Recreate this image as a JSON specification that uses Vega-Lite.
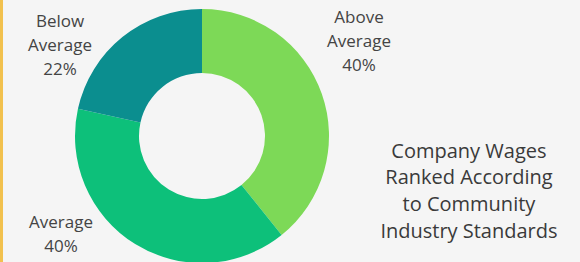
{
  "$schema": "https://vega.github.io/schema/vega-lite/v6.json",
  "width": 580,
  "height": 262,
  "padding": 0,
  "autosize": {"type": "none"},
  "background": "#f5f5f5",
  "config": {"view": {"stroke": null}, "font": "Open Sans"},
  "datasets": {
    "slices": [
      {"category": "Above Average", "value": 40, "lx": 1.236, "ly": 0.886},
      {"category": "Average", "value": 40, "lx": -1.11, "ly": -0.727},
      {"category": "Below Average", "value": 22, "lx": -1.118, "ly": 0.861}
    ],
    "note": [
      {"text": "Company Wages\nRanked According\nto Community\nIndustry Standards", "lx": 2.102, "ly": -0.171}
    ]
  },
  "layer": [
    {
      "data": {"name": "note"},
      "mark": {"type": "rule", "color": "#f2c14e", "strokeWidth": 3},
      "encoding": {
        "x": {"datum": -1.5787, "type": "quantitative", "scale": {"domain": [-1.590551, 2.976378], "nice": false, "zero": false}, "axis": null}
      }
    },
    {
      "data": {"name": "slices"},
      "mark": {"type": "arc", "radius": 127, "innerRadius": 63},
      "encoding": {
        "x": {"datum": 0, "type": "quantitative", "scale": {"domain": [-1.590551, 2.976378], "nice": false, "zero": false}, "axis": null},
        "y": {"datum": 0, "type": "quantitative", "scale": {"domain": [-0.992126, 1.070866], "nice": false, "zero": false}, "axis": null},
        "theta": {"field": "value", "type": "quantitative", "stack": true},
        "order": {"field": "category", "sort": "ascending"},
        "color": {
          "field": "category",
          "type": "nominal",
          "scale": {"domain": ["Above Average", "Average", "Below Average"], "range": ["#7dd957", "#0dc07a", "#0b8e8f"]},
          "legend": null
        }
      }
    },
    {
      "data": {"name": "slices"},
      "transform": [{"calculate": "replace(datum.category, ' ', '\\n') + '\\n' + datum.value + '%'", "as": "label"}],
      "mark": {"type": "text", "fontSize": 17, "lineHeight": 24, "lineBreak": "\n", "align": "center", "baseline": "alphabetic", "color": "#444444"},
      "encoding": {
        "x": {"field": "lx", "type": "quantitative", "scale": {"domain": [-1.590551, 2.976378], "nice": false, "zero": false}, "axis": null},
        "y": {"field": "ly", "type": "quantitative", "scale": {"domain": [-0.992126, 1.070866], "nice": false, "zero": false}, "axis": null},
        "text": {"field": "label"}
      }
    },
    {
      "data": {"name": "note"},
      "mark": {"type": "text", "fontSize": 20, "lineHeight": 26.7, "lineBreak": "\n", "align": "center", "baseline": "alphabetic", "color": "#3a3a3a"},
      "encoding": {
        "x": {"field": "lx", "type": "quantitative", "scale": {"domain": [-1.590551, 2.976378], "nice": false, "zero": false}, "axis": null},
        "y": {"field": "ly", "type": "quantitative", "scale": {"domain": [-0.992126, 1.070866], "nice": false, "zero": false}, "axis": null},
        "text": {"field": "text"}
      }
    }
  ]
}
